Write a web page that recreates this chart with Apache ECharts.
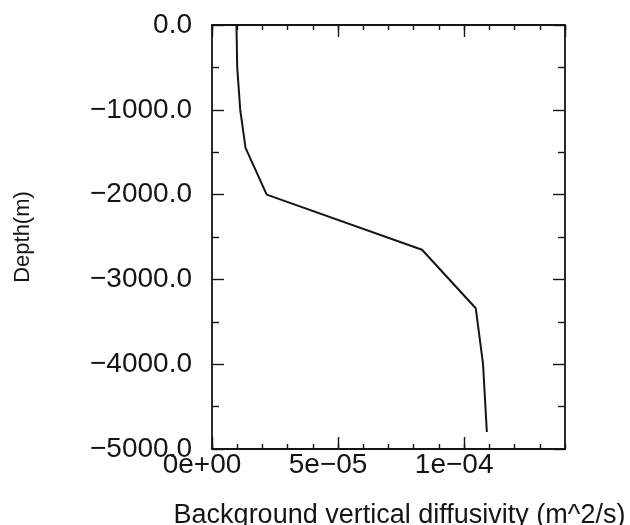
<!DOCTYPE html>
<html>
<head>
<meta charset="utf-8">
<script src="https://cdn.jsdelivr.net/npm/echarts@6/dist/echarts.min.js"></script>
<style>
html,body{margin:0;padding:0;background:#fff;}
#chart{width:630px;height:525px;}
</style>
</head>
<body>
<div id="chart"></div>
<script>
// Data
const depths = [0, -500, -1000, -1450, -2000, -2650, -3340, -4000, -4800];
const diffusivity = [0.97e-5, 1.0e-5, 1.12e-5, 1.33e-5, 2.17e-5, 8.33e-5, 10.46e-5, 10.75e-5, 10.9e-5];
const xTickValues = [0, 5e-5, 1e-4];
const xTickLabels = ['0e+00', '5e\u221205', '1e\u221204'];
const yTickValues = [0, -1000, -2000, -3000, -4000, -5000];
const yTickLabels = ['0.0', '\u22121000.0', '\u22122000.0', '\u22123000.0', '\u22124000.0', '\u22125000.0'];
const xTitle = 'Background vertical diffusivity (m^2/s)';
const yTitle = 'Depth(m)';

const FONT = 'Liberation Sans, Arial, Helvetica, sans-serif';
const INK = '#151515';
const XMIN = 0, XMAX = 1.4e-4, YMIN = -5000, YMAX = 0;

function xLabel(v) {
  for (let i = 0; i < xTickValues.length; i++) {
    if (Math.abs(v - xTickValues[i]) < 1e-9) return xTickLabels[i];
  }
  return '';
}
function yLabel(v) {
  for (let i = 0; i < yTickValues.length; i++) {
    if (Math.abs(v - yTickValues[i]) < 1e-6) return yTickLabels[i];
  }
  return '';
}

const line = { show: true, onZero: false, lineStyle: { color: INK, width: 1.8 } };
const noLine = { show: false, onZero: false };

function xAx(pos, interval, len, withLabels) {
  return {
    type: 'value', position: pos, min: XMIN, max: XMAX, interval: interval,
    axisLine: len > 6 ? line : noLine,
    axisTick: { show: true, inside: true, length: len, lineStyle: { color: INK, width: 1.4 } },
    axisLabel: withLabels ? {
      show: true, formatter: xLabel, fontSize: 28, fontFamily: FONT, color: INK,
      margin: 2, padding: [0, 20, 0, 0], showMaxLabel: false
    } : { show: false },
    splitLine: { show: false },
    name: withLabels ? xTitle : '',
    nameLocation: 'middle', nameGap: 53,
    nameTextStyle: { fontSize: 27, fontFamily: FONT, color: INK, padding: [0, 0, 0, 22] }
  };
}
function yAx(pos, withLabels) {
  return {
    type: 'value', position: pos, min: YMIN, max: YMAX, interval: 1000,
    axisLine: line,
    axisTick: { show: true, inside: true, length: 12, lineStyle: { color: INK, width: 1.4 } },
    minorTick: { show: true, splitNumber: 2, length: 7, lineStyle: { color: INK, width: 1.4 } },
    axisLabel: withLabels ? {
      show: true, formatter: yLabel, fontSize: 28, fontFamily: FONT, color: INK,
      margin: 20
    } : { show: false },
    splitLine: { show: false },
    minorSplitLine: { show: false },
    name: withLabels ? yTitle : '',
    nameLocation: 'middle', nameGap: 178, nameRotate: 90,
    nameTextStyle: { fontSize: 22, fontFamily: FONT, color: INK }
  };
}

const chart = echarts.init(document.getElementById('chart'), null, { renderer: 'canvas' });
chart.setOption({
  animation: false,
  backgroundColor: '#ffffff',
  grid: { left: 212, right: 65, top: 25, bottom: 76, containLabel: false, outerBoundsMode: 'none' },
  xAxis: [
    xAx('bottom', 5e-5, 12, true),
    xAx('bottom', 1e-5, 5, false),
    xAx('top', 5e-5, 12, false),
    xAx('top', 1e-5, 5, false)
  ],
  yAxis: [yAx('left', true), yAx('right', false)],
  series: [{
    type: 'line',
    xAxisIndex: 0, yAxisIndex: 0,
    data: depths.map((d, i) => [diffusivity[i], d]),
    showSymbol: false, symbol: 'none',
    lineStyle: { color: INK, width: 2 },
    silent: true
  }]
});
</script>
</body>
</html>
